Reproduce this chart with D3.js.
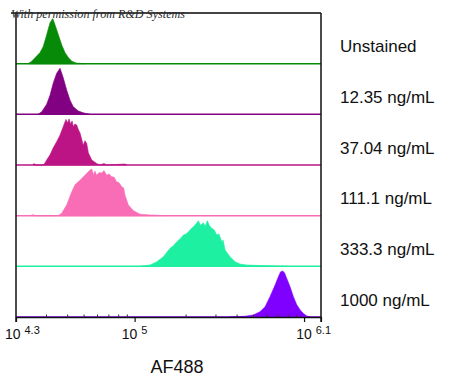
<!DOCTYPE html>
<html>
<head>
<meta charset="utf-8">
<script src="https://cdn.jsdelivr.net/npm/d3@7"></script>
<style>
  body { margin: 0; background: #fff; }
  svg { display: block; }
</style>
</head>
<body>
<div id="my_dataviz"></div>
<script>
// lane labels, top to bottom
var samples = ["Unstained", "12.35 ng/mL", "37.04 ng/mL", "111.1 ng/mL", "333.3 ng/mL", "1000 ng/mL"];
var colors = ["#078a07", "#820082", "#bd1485", "#f96db6", "#1ef0a2", "#8000ff"];

// histograms: [log10(AF488), % of lane height]
var unstained = [[4.371,0],[4.393,5],[4.442,22],[4.461,34],[4.481,57],[4.501,81],[4.517,89],[4.530,77],
  [4.550,57],[4.570,37],[4.589,22],[4.609,12],[4.629,5],[4.658,1],[4.707,0]];
var ng12 = [[4.430,0],[4.452,5],[4.481,20],[4.501,38],[4.520,62],[4.540,81],[4.560,91],[4.579,72],
  [4.599,48],[4.619,28],[4.638,15],[4.668,6.5],[4.697,3],[4.737,0]];
var ng37 = [[4.400,0],[4.406,3],[4.418,0],[4.459,0],[4.471,4],[4.481,10],[4.501,20],[4.520,34],[4.540,46],
  [4.560,59],[4.579,76],[4.589,85],[4.595,90],[4.604,83],[4.613,91],[4.622,81],[4.631,87],[4.638,76],
  [4.648,81],[4.658,79],[4.669,69],[4.678,63],[4.697,39],[4.707,48],[4.717,43],[4.727,24],[4.747,10],
  [4.776,3],[4.796,0],[4.819,3],[4.837,0],[4.943,2],[4.955,0]];
var ng111 = [[4.383,0],[4.400,2],[4.418,0],[4.548,0],[4.570,5],[4.599,21],[4.629,47],[4.648,61],[4.678,70],
  [4.707,80],[4.725,86],[4.737,90],[4.747,92],[4.757,81],[4.766,88],[4.776,80],[4.790,85],[4.806,84],
  [4.819,89],[4.835,80],[4.849,82],[4.865,77],[4.879,76],[4.894,67],[4.908,65],[4.924,57],[4.935,55],
  [4.943,41],[4.963,21],[4.992,10],[5.032,3],[5.091,1.5],[5.180,0]];
var ng333 = [[5.032,0],[5.091,2.6],[5.131,9],[5.170,19],[5.209,35.5],[5.227,40],[5.249,48.5],[5.268,54],
  [5.288,62],[5.304,64],[5.317,68],[5.333,74],[5.347,78],[5.363,84],[5.376,90],[5.389,81],[5.406,86],
  [5.416,79],[5.429,90],[5.442,80],[5.455,75],[5.469,72],[5.485,62],[5.498,64],[5.514,48.5],[5.522,52],
  [5.534,32],[5.563,19],[5.593,9],[5.622,4.5],[5.662,2.6],[5.740,1.5],[5.900,0]];
var ng1000 = [[5.563,0],[5.652,1.5],[5.701,4],[5.740,10.5],[5.770,20],[5.799,40],[5.829,63],[5.848,79],
  [5.861,89],[5.874,91],[5.885,87],[5.898,76],[5.917,60],[5.937,40],[5.957,24],[5.977,14],[5.996,7],
  [6.016,2],[6.036,0]];
var histograms = [unstained, ng12, ng37, ng111, ng333, ng1000];

// axis ticks (log10 exponents)
var majorTicks = [4.3, 5, 6, 6.1];
var tickLabels = ["4.3", "5", "", "6.1"];
var minorTicks = [3e4, 4e4, 5e4, 6e4, 7e4, 8e4, 9e4, 2e5, 3e5, 4e5, 5e5, 6e5, 7e5, 8e5, 9e5];

var margin = {top: 13, left: 16},
    width = 305,
    height = 304;

var svg = d3.select("#my_dataviz")
    .append("svg")
    .attr("width", 450)
    .attr("height", 391)
  .append("g")
    .attr("transform", "translate(" + margin.left + "," + margin.top + ")");

var x = d3.scaleLog()
    .domain([Math.pow(10, 4.3), Math.pow(10, 6.1)])
    .range([0, width]);

var lane = d3.scaleBand()
    .domain(samples)
    .range([0, height]);

// histograms with baselines
samples.forEach(function(s, i) {
    var bottom = lane(s) + lane.bandwidth();
    var y = d3.scaleLinear().domain([0, 100]).range([bottom, lane(s)]);

    svg.append("line")
        .attr("x1", 0).attr("x2", width)
        .attr("y1", bottom).attr("y2", bottom)
        .attr("stroke", colors[i])
        .attr("stroke-width", 1.5);

    var area = d3.area()
        .x(function(d) { return x(Math.pow(10, d[0])); })
        .y0(bottom)
        .y1(function(d) { return y(d[1]); });

    svg.append("path")
        .datum(histograms[i])
        .attr("d", area)
        .attr("fill", colors[i])
        .attr("stroke", colors[i])
        .attr("stroke-width", 0.6);

    svg.append("text")
        .attr("x", width + 19)
        .attr("y", lane(s) + lane.bandwidth() / 2 + 14)
        .attr("font-family", "Liberation Sans, Arial, sans-serif")
        .attr("font-size", 17)
        .attr("fill", "#111")
        .text(s);
});

// frame
svg.append("line")
    .attr("x1", -5).attr("x2", width)
    .attr("y1", 0).attr("y2", 0)
    .attr("stroke", "#444").attr("stroke-width", 2);
svg.append("line")
    .attr("x1", 0).attr("x2", 0)
    .attr("y1", 0).attr("y2", height + 5)
    .attr("stroke", "#111").attr("stroke-width", 1.5);
svg.append("line")
    .attr("x1", width).attr("x2", width)
    .attr("y1", 0).attr("y2", height + 5)
    .attr("stroke", "#111").attr("stroke-width", 1.5);

// x axis: major ticks point down, minor ticks point up
var gx = svg.append("g")
    .attr("transform", "translate(0," + height + ")")
    .call(d3.axisBottom(x)
        .tickValues(majorTicks.map(function(e) { return Math.pow(10, e); }))
        .tickSize(5)
        .tickSizeOuter(0)
        .tickFormat(""));
gx.select(".domain").attr("stroke", "#111").attr("stroke-width", 1.5);
gx.selectAll(".tick line").attr("stroke", "#111").attr("stroke-width", 1.2);

var gm = svg.append("g")
    .attr("transform", "translate(0," + height + ")")
    .call(d3.axisTop(x).tickValues(minorTicks).tickSize(2.5).tickSizeOuter(0).tickFormat(""));
gm.select(".domain").remove();
gm.selectAll(".tick line").attr("stroke", "#333").attr("stroke-width", 1);

// tick labels as 10 with superscript exponent
majorTicks.forEach(function(e, i) {
    if (!tickLabels[i]) return;
    var anchor = i == 0 ? "start" : (i == majorTicks.length - 1 ? "end" : "middle");
    var dx = i == 0 ? -11 : (i == majorTicks.length - 1 ? 10 : 0);
    var t = svg.append("text")
        .attr("x", x(Math.pow(10, e)) + dx)
        .attr("y", height + 22)
        .attr("text-anchor", anchor)
        .attr("font-family", "Liberation Sans, Arial, sans-serif")
        .attr("font-size", 14)
        .attr("fill", "#111");
    t.append("tspan").text("10 ");
    t.append("tspan").attr("dy", -5).attr("font-size", 11).text(tickLabels[i]);
});

// axis title
svg.append("text")
    .attr("x", 161)
    .attr("y", 360)
    .attr("text-anchor", "middle")
    .attr("font-family", "Liberation Sans, Arial, sans-serif")
    .attr("font-size", 18)
    .attr("fill", "#111")
    .text("AF488");

// watermark
svg.append("text")
    .attr("x", -5)
    .attr("y", 5)
    .attr("font-family", "Liberation Serif, serif")
    .attr("font-style", "italic")
    .attr("font-size", 13)
    .attr("fill", "#2a2a2a")
    .attr("textLength", 174)
    .attr("lengthAdjust", "spacingAndGlyphs")
    .text("With permission from R&D Systems");
</script>
</body>
</html>
